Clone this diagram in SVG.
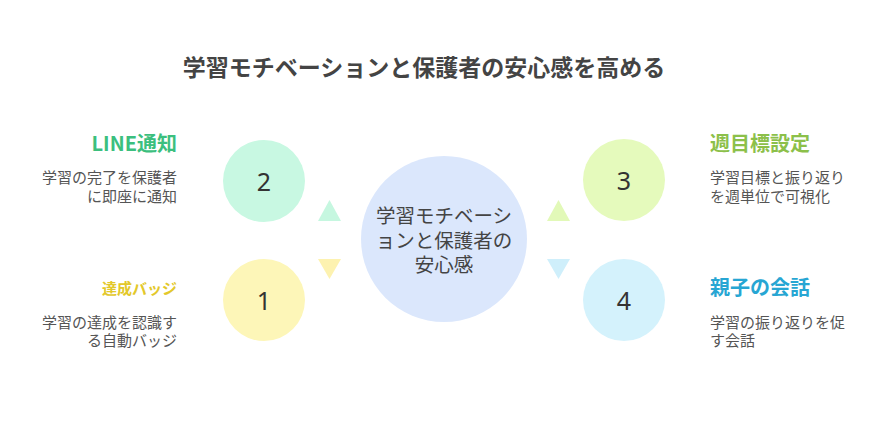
<svg xmlns="http://www.w3.org/2000/svg" width="888" height="432" viewBox="0 0 888 432">
<style>
.title{font-family:"Noto Sans CJK JP","Noto Sans",sans-serif;font-weight:700;font-size:23px;fill:#444444}
.num{font-family:"Noto Sans","Noto Sans CJK JP",sans-serif;font-size:25px;fill:#333333}
.ctr{font-family:"Noto Sans CJK JP",sans-serif;font-size:19.5px;fill:#444444}
.hd{font-family:"Noto Sans CJK JP",sans-serif;font-weight:700;font-size:20px}
.desc{font-family:"Noto Sans CJK JP",sans-serif;font-size:15px;fill:#555555}
</style>
<rect width="888" height="432" fill="#ffffff"/>
<text class="title" x="424" y="76" text-anchor="middle">学習モチベーションと保護者の安心感を高める</text>
<g id="connectors">
<polygon points="329.5,200 341,221 318,221" fill="#c6f7e0"/>
<polygon points="318,259 341,259 329.5,279" fill="#fdf2b0"/>
<polygon points="558.5,200 570,221 547,221" fill="#e2f9b8"/>
<polygon points="547,259 570,259 558.5,279" fill="#cfeffb"/>
</g>
<g id="center">
<circle cx="444" cy="239" r="83" fill="#dbe7fc"/>
<text class="ctr" x="444" y="223" text-anchor="middle">学習モチベーシ</text>
<text class="ctr" x="444" y="248" text-anchor="middle">ョンと保護者の</text>
<text class="ctr" x="444" y="272" text-anchor="middle">安心感</text>
</g>
<g id="node2">
<circle cx="264" cy="181" r="41" fill="#c8f8e2"/>
<text class="num" x="264" y="191" text-anchor="middle">2</text>
<text class="hd" x="177" y="151" text-anchor="end" fill="#3cbf7e">LINE通知</text>
<text class="desc" x="177" y="183" text-anchor="end">学習の完了を保護者</text>
<text class="desc" x="177" y="202" text-anchor="end">に即座に通知</text>
</g>
<g id="node1">
<circle cx="264" cy="300" r="41" fill="#fdf6b8"/>
<text class="num" x="264" y="310" text-anchor="middle">1</text>
<text class="hd" x="177" y="294" text-anchor="end" fill="#e3c82a" style="font-size:15px">達成バッジ</text>
<text class="desc" x="177" y="328" text-anchor="end">学習の達成を認識す</text>
<text class="desc" x="177" y="346" text-anchor="end">る自動バッジ</text>
</g>
<g id="node3">
<circle cx="624" cy="180" r="41" fill="#e5fabc"/>
<text class="num" x="624" y="190" text-anchor="middle">3</text>
<text class="hd" x="710" y="151" fill="#8cc04a">週目標設定</text>
<text class="desc" x="710" y="183">学習目標と振り返り</text>
<text class="desc" x="710" y="202">を週単位で可視化</text>
</g>
<g id="node4">
<circle cx="624" cy="300" r="41" fill="#d4f2fc"/>
<text class="num" x="624" y="310" text-anchor="middle">4</text>
<text class="hd" x="710" y="295" fill="#27a6d3">親子の会話</text>
<text class="desc" x="710" y="328">学習の振り返りを促</text>
<text class="desc" x="710" y="346">す会話</text>
</g>
</svg>
